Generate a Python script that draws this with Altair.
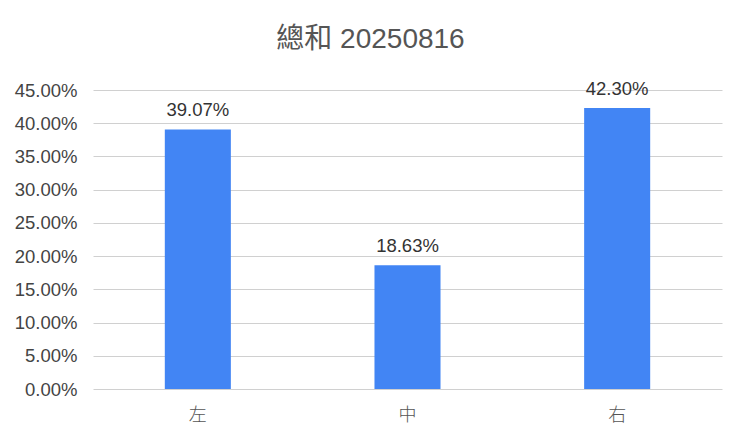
import altair as alt
import pandas as pd

categories = ["左", "中", "右"]
values = [0.3907, 0.1863, 0.4230]
labels = ["39.07%", "18.63%", "42.30%"]

df = pd.DataFrame({"cat": categories, "val": values, "lab": labels})

FONT = "Liberation Sans, Noto Sans CJK TC, sans-serif"

base = alt.Chart(df).encode(
    x=alt.X("cat:N", sort=categories, title=None,
            scale=alt.Scale(paddingInner=0.685, paddingOuter=0.3425),
            axis=alt.Axis(labelAngle=0, labelFontSize=18, labelColor="#555555",
                          labelFont=FONT, labelFontWeight=300, ticks=False,
                          domain=False, labelPadding=17, grid=False)),
    y=alt.Y("val:Q", title=None,
            scale=alt.Scale(domain=[0, 0.45], nice=False),
            axis=alt.Axis(format=".2%", values=[i * 0.05 for i in range(10)],
                          labelFontSize=18.5, labelColor="#444444", labelFont=FONT,
                          ticks=False, domain=False, gridColor="#d0d0d0",
                          gridWidth=1, labelPadding=16)),
)

bars = base.mark_bar(color="#4285F4")
text = base.mark_text(dy=-13, baseline="alphabetic", fontSize=18.5, color="#333333",
                      font=FONT).encode(text="lab:N")

chart = (bars + text).properties(
    width=629, height=299,
    title=alt.TitleParams("總和 20250816", fontSize=28, font=FONT, color="#555555",
                          fontWeight="normal", anchor="middle", dx=-37, offset=26),
    autosize=alt.AutoSizeParams(type="none"),
    padding={"left": 85, "top": 82, "right": 10, "bottom": 40},
).configure_view(stroke=None)

chart.save("out.html", embed_options={"renderer": "svg", "actions": False})
